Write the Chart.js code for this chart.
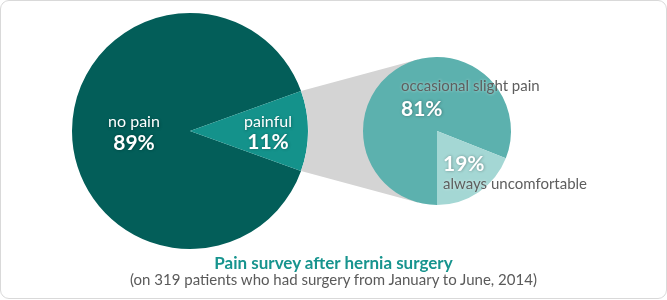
<!DOCTYPE html>
<html>
<head>
<meta charset="utf-8">
<script src="https://cdn.jsdelivr.net/npm/chart.js@4.4.1/dist/chart.umd.min.js"></script>
<style>
  html, body { margin: 0; padding: 0; background: #fff; }
  #frame {
    position: relative; width: 665px; height: 297px;
    border: 1px solid #d9d9d9; border-radius: 9px; background: #fff;
    overflow: hidden; font-family: Lato, "Open Sans", sans-serif;
  }
  canvas { position: absolute; left: 0; top: 0; }
  .title {
    position: absolute; left: 0; width: 665px; text-align: center;
    font-weight: bold; font-size: 17px; color: #17948e; top: 251px;
  }
  .subtitle {
    position: absolute; left: 0; width: 665px; text-align: center;
    font-size: 15px; color: #5a5a5a; top: 269px;
  }
</style>
</head>
<body>
<div id="frame">
  <canvas id="bigPie" width="665" height="297"></canvas>
  <canvas id="smallPie" width="665" height="297"></canvas>
  <div class="title">Pain survey after hernia surgery</div>
  <div class="subtitle">(on 319 patients who had surgery from January to June, 2014)</div>
</div>
<script>
// ─── Data ────────────────────────────────────────────────────────────
const mainLabels = ['no pain', 'painful'];
const mainValues = [89, 11];
const painLabels = ['occasional slight pain', 'always uncomfortable'];
const painValues = [81, 19];

const mainColors = ['#035e59', '#14928b'];
const painColors = ['#5cb1ae', '#a4d7d4'];

// ─── Label plugin: text placed relative to the pie centre ────────────
function pieLabels(items) {
    return {
        id: 'pieLabels',
        afterDatasetsDraw(chart) {
            const arc = chart.getDatasetMeta(0).data[0];
            const { x, y } = arc.getProps(['x', 'y'], true);
            const ctx = chart.ctx;
            ctx.save();
            ctx.textBaseline = 'middle';
            items.forEach(it => {
                ctx.font = it.font;
                ctx.textAlign = it.align || 'center';
                ctx.fillStyle = it.color;
                ctx.shadowColor = it.shadow || 'rgba(0,0,0,0.35)';
                ctx.shadowBlur = 3;
                ctx.shadowOffsetX = 0.5;
                ctx.shadowOffsetY = 0.5;
                ctx.fillText(it.text, x + it.dx, y + it.dy);
            });
            ctx.restore();
        }
    };
}

const regular = '16px Lato, "Open Sans", sans-serif';
const bold = 'bold 21px Lato, "Open Sans", sans-serif';

// ─── Big pie ─────────────────────────────────────────────────────────
const bigChart = new Chart(document.getElementById('bigPie'), {
    type: 'pie',
    data: {
        labels: mainLabels,
        datasets: [{ data: mainValues, backgroundColor: mainColors, borderWidth: 0 }]
    },
    options: {
        responsive: false,
        animation: false,
        rotation: 90 + mainValues[1] * 1.8,
        layout: { padding: { left: 71, right: 358, top: 12, bottom: 49 } },
        plugins: { legend: { display: false }, tooltip: { enabled: false } }
    },
    plugins: [pieLabels([
        { text: mainLabels[0] + '', dx: -56, dy: -9, font: regular, color: '#fff' },
        { text: mainValues[0] + '%', dx: -56, dy: 12, font: bold, color: '#fff' },
        { text: 'painful', dx: 78, dy: -9, font: regular, color: '#fff' },
        { text: mainValues[1] + '%', dx: 78, dy: 11, font: bold, color: '#fff' }
    ])]
});

// ─── Connector between the painful slice and the small pie ───────────
const connector = {
    id: 'connector',
    beforeDatasetsDraw(chart) {
        const big = bigChart.getDatasetMeta(0).data[1]
            .getProps(['x', 'y', 'startAngle', 'endAngle', 'outerRadius'], true);
        const small = chart.getDatasetMeta(0).data[0].getProps(['x', 'y', 'outerRadius'], true);
        const p1 = { x: big.x + big.outerRadius * Math.cos(big.startAngle),
                     y: big.y + big.outerRadius * Math.sin(big.startAngle) };
        const p2 = { x: big.x + big.outerRadius * Math.cos(big.endAngle),
                     y: big.y + big.outerRadius * Math.sin(big.endAngle) };
        const tangent = (p, sign) => {
            const dx = p.x - small.x, dy = p.y - small.y;
            const d = Math.hypot(dx, dy);
            const th = Math.atan2(dy, dx) + sign * Math.acos(small.outerRadius / d);
            return { x: small.x + small.outerRadius * Math.cos(th),
                     y: small.y + small.outerRadius * Math.sin(th) };
        };
        const t1 = tangent(p1, 1);
        const t2 = tangent(p2, -1);
        const ctx = chart.ctx;
        ctx.save();
        ctx.fillStyle = '#d4d4d4';
        ctx.beginPath();
        ctx.moveTo(p1.x, p1.y);
        ctx.lineTo(t1.x, t1.y);
        ctx.lineTo(small.x, small.y);
        ctx.lineTo(t2.x, t2.y);
        ctx.lineTo(p2.x, p2.y);
        ctx.arc(big.x, big.y, big.outerRadius, big.endAngle, big.startAngle, true);
        ctx.closePath();
        ctx.fill();
        ctx.restore();
    }
};

// ─── Small pie (breakdown of "painful") ──────────────────────────────
const grayText = '#5e5e5e';
const lightShadow = 'rgba(255,255,255,0.6)';
new Chart(document.getElementById('smallPie'), {
    type: 'pie',
    data: {
        labels: painLabels,
        datasets: [{ data: painValues, backgroundColor: painColors, borderWidth: 0 }]
    },
    options: {
        responsive: false,
        animation: false,
        rotation: 180,
        layout: { padding: { left: 362, right: 155, top: 56, bottom: 93 } },
        plugins: { legend: { display: false }, tooltip: { enabled: false } }
    },
    plugins: [connector, pieLabels([
        { text: painLabels[0], dx: -36, dy: -45, font: '15px Lato, "Open Sans", sans-serif', color: grayText, align: 'left', shadow: lightShadow },
        { text: painValues[0] + '%', dx: -36, dy: -22, font: bold, color: '#fff', align: 'left' },
        { text: painValues[1] + '%', dx: 6, dy: 33, font: bold, color: '#fff', align: 'left' },
        { text: painLabels[1], dx: 6, dy: 53, font: '15px Lato, "Open Sans", sans-serif', color: grayText, align: 'left', shadow: lightShadow }
    ])]
});
</script>
</body>
</html>
